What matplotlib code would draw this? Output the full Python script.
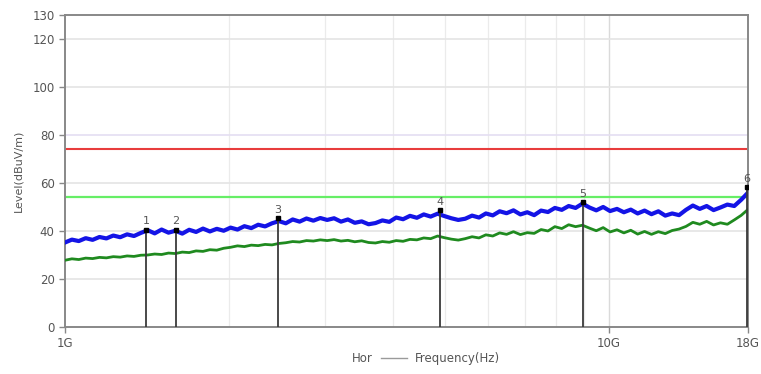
import numpy as np
import matplotlib
matplotlib.use("Agg")
import matplotlib.pyplot as plt
from matplotlib.lines import Line2D

# limits (dBuV/m)
limit_peak = 74
limit_avg = 54

# sweep, 1 GHz .. 18 GHz
freq = np.geomspace(1e9, 18e9, 100)

peak = [35.2, 36.4, 35.8, 37.0, 36.3, 37.5, 36.9, 38.1, 37.4, 38.6, 37.9, 39.2,
        40.3, 39.0, 40.6, 39.3, 40.1, 38.9, 40.5, 39.6, 41.0, 39.8, 40.9, 40.1,
        41.4, 40.6, 42.0, 41.2, 42.6, 41.9, 43.2,
        44.1, 43.2, 44.8, 43.9, 45.2, 44.3, 45.4,
        44.6, 45.3, 43.9, 44.8, 43.4, 44.0, 42.8,
        43.3, 44.4, 43.8,
        45.6, 44.9, 46.3, 45.5, 46.9, 46.0,
        47.2,
        46.2, 45.3, 44.6,
        45.1, 46.4, 45.6, 47.3, 46.5, 48.2,
        47.4, 48.6, 46.9, 47.8,
        46.6, 48.5, 47.9, 49.6, 48.8,
        50.4, 49.6,
        51.4,
        49.8, 48.6, 50.0, 48.3,
        49.2, 47.8, 48.9, 47.3, 48.5,
        47.0, 48.2, 46.4, 47.3,
        46.6, 48.8,
        50.6, 49.2, 50.4, 48.7,
        49.8, 51.0, 50.4,
        53.0,
        56.0]

avg = [27.8, 28.4, 28.1, 28.7, 28.5, 29.0, 28.8, 29.3, 29.1, 29.6, 29.4, 29.9,
       30.0, 30.4, 30.2, 30.8, 30.6, 31.2, 31.0, 31.7, 31.5, 32.2, 32.0, 32.8,
       33.2, 33.8, 33.5, 34.1, 33.9, 34.4, 34.2,
       34.8, 35.1, 35.6, 35.4, 36.0, 35.8, 36.3,
       36.0, 36.4, 35.8, 36.1, 35.5, 35.9, 35.2,
       35.0, 35.6, 35.3,
       36.0, 35.7, 36.5, 36.3, 37.1, 36.8,
       37.9,
       37.2, 36.6, 36.2,
       36.8, 37.6, 37.1, 38.4, 37.9, 39.2,
       38.6, 39.7, 38.5, 39.3,
       39.0, 40.6, 40.0, 41.8, 41.0,
       42.6, 41.8,
       42.4,
       41.2, 40.1, 41.4, 39.6,
       40.5, 39.2, 40.3, 38.7, 39.8,
       38.6, 39.7, 38.9, 40.2,
       40.8, 41.9,
       43.6, 42.8, 44.0, 42.5,
       43.4, 42.8, 44.6,
       46.5,
       49.0]

# markers
mk_freq = [1.41e9, 1.60e9, 2.46e9, 4.89e9, 8.95e9, 17.9e9]
mk_level = [40.5, 40.5, 45.2, 48.6, 52.0, 58.2]
mk_label = ['1', '2', '3', '4', '5', '6']

yticks = [0, 20, 40, 60, 80, 100, 120, 130]
xticks = [1e9, 10e9, 18e9]
xticklabels = ['1G', '10G', '18G']

fig = plt.figure(figsize=(7.61, 3.74), dpi=100)
ax = fig.add_axes([0.0854, 0.1257, 0.8976, 0.8343])

ax.set_xscale('log')
ax.set_xlim(1e9, 18e9)
ax.set_ylim(0, 130)

# grid
for f in [2e9, 3e9, 4e9, 5e9, 6e9, 7e9, 8e9, 9e9]:
    ax.axvline(f, color='#ebebeb', lw=0.9, zorder=0)
ax.axvline(10e9, color='#dadada', lw=1.0, zorder=0)
for y in [20, 40, 60, 100, 120]:
    ax.axhline(y, color='#e4e4e4', lw=1.2, zorder=0)
ax.axhline(80, color='#e4def2', lw=1.2, zorder=0)

# limit lines
ax.axhline(limit_peak, color='#e83c3c', lw=1.5, zorder=2)
ax.axhline(limit_avg, color='#66ee66', lw=1.6, zorder=2)

# traces
ax.plot(freq, peak, color='#1414e6', lw=3.0, zorder=3)
ax.plot(freq, avg, color='#1f8a1f', lw=2.0, zorder=3)

# markers
for f, lv, lb in zip(mk_freq, mk_level, mk_label):
    ax.vlines(f, 0, lv, color='#3a3a3a', lw=1.3, zorder=4)
    ax.plot(f, lv, 's', color='black', ms=3.5, zorder=5)
    ax.text(f, lv + 1.5, lb, ha='center', va='bottom', fontsize=8, color='#555555')

# axes styling
for s in ax.spines.values():
    s.set_color('#888888')
    s.set_linewidth(1.4)
ax.set_yticks(yticks)
ax.set_xticks(xticks)
ax.set_xticklabels(xticklabels)
ax.xaxis.set_minor_locator(matplotlib.ticker.NullLocator())
ax.tick_params(axis='both', colors='#888888', labelcolor='#555555', labelsize=8.5,
               length=4, width=1)
ax.set_ylabel('Level(dBuV/m)', fontsize=8, color='#555555', labelpad=6)

# bottom legend / xlabel
fig.text(0.49, 0.025, 'Hor', ha='right', va='bottom', fontsize=8.5, color='#555555')
fig.add_artist(Line2D([0.5, 0.535], [0.043, 0.043], color='#9a9a9a', lw=1.0,
                      transform=fig.transFigure))
fig.text(0.545, 0.025, 'Frequency(Hz)', ha='left', va='bottom', fontsize=8.5,
         color='#555555')

fig.savefig('out.png', dpi=100, facecolor='white')
